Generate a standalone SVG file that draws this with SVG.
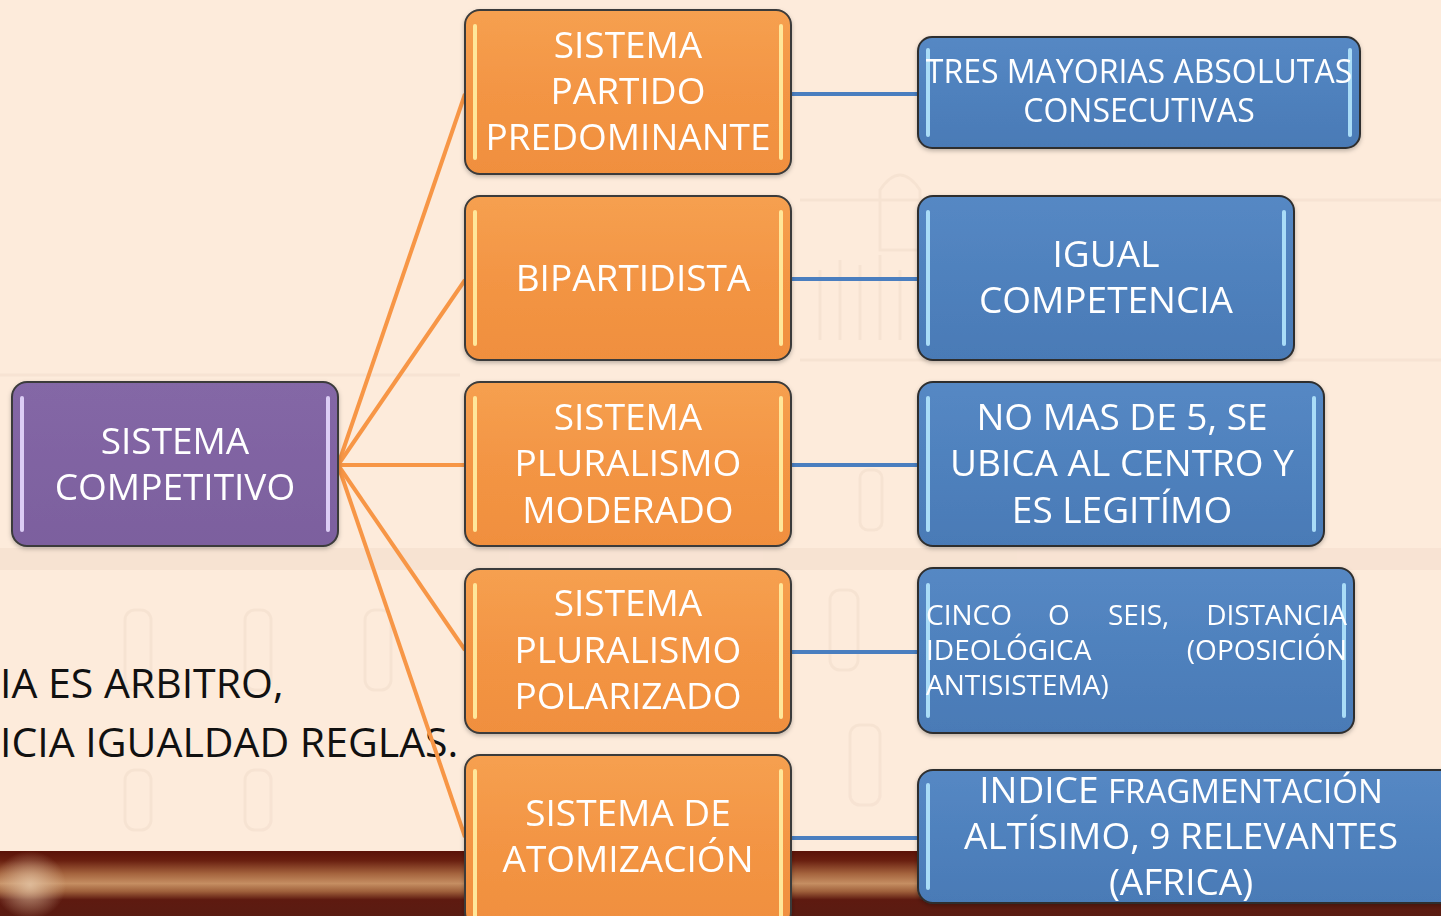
<svg xmlns="http://www.w3.org/2000/svg" width="1441" height="916" viewBox="0 0 1441 916">
<style>
  .t { font-family: "Open Sans", "Liberation Sans", sans-serif; fill: #ffffff; text-anchor: middle; }
  .f37 { font-size: 37px; }
  .f32 { font-size: 32px; }
  .f28 { font-size: 28px; }
  .orange { fill: url(#gOrange); stroke: #3b3b3b; stroke-width: 2; }
  .blue { fill: url(#gBlue); stroke: #2f2f2f; stroke-width: 2; }
  .purple { fill: url(#gPurple); stroke: #3b3b3b; stroke-width: 2; }
  .hlO { stroke: #ffe79a; stroke-width: 4; stroke-linecap: round; }
  .hlB { stroke: #a9dcf7; stroke-width: 4; stroke-linecap: round; }
  .hlP { stroke: #dccdf5; stroke-width: 4; stroke-linecap: round; }
  .co { stroke: #f79646; stroke-width: 4; fill: none; }
  .cb { stroke: #4a7ebf; stroke-width: 4; fill: none; }
  .bg { fill: none; stroke: #f1dccb; stroke-width: 3; }
  .blk { font-family: "Open Sans", "Liberation Sans", sans-serif; font-size: 41px; fill: #111111; }
</style>
<defs>
  <linearGradient id="gOrange" x1="0" y1="0" x2="0" y2="1">
    <stop offset="0" stop-color="#f6a050"/>
    <stop offset="0.5" stop-color="#f39544"/>
    <stop offset="1" stop-color="#f08f3e"/>
  </linearGradient>
  <linearGradient id="gBlue" x1="0" y1="0" x2="0" y2="1">
    <stop offset="0" stop-color="#5588c4"/>
    <stop offset="0.5" stop-color="#4f81bd"/>
    <stop offset="1" stop-color="#4a7ab6"/>
  </linearGradient>
  <linearGradient id="gPurple" x1="0" y1="0" x2="0" y2="1">
    <stop offset="0" stop-color="#8467a6"/>
    <stop offset="1" stop-color="#7c609e"/>
  </linearGradient>
  <linearGradient id="gBand" x1="0" y1="0" x2="0" y2="1">
    <stop offset="0" stop-color="#5a1208"/>
    <stop offset="0.15" stop-color="#6a2010"/>
    <stop offset="0.35" stop-color="#a5643e"/>
    <stop offset="0.5" stop-color="#c58e62"/>
    <stop offset="0.62" stop-color="#a0613c"/>
    <stop offset="0.75" stop-color="#5e1a10"/>
    <stop offset="1" stop-color="#5a1c12"/>
  </linearGradient>
  <radialGradient id="gLamp" cx="0.5" cy="0.5" r="0.5">
    <stop offset="0" stop-color="#e3c3a3" stop-opacity="0.85"/>
    <stop offset="1" stop-color="#e3c3a3" stop-opacity="0"/>
  </radialGradient>
  <filter id="sh" x="-5%" y="-5%" width="110%" height="115%">
    <feDropShadow dx="0" dy="2" stdDeviation="2" flood-color="#000000" flood-opacity="0.25"/>
  </filter>
</defs>

<!-- background -->
<rect x="0" y="0" width="1441" height="916" fill="#fdebdb"/>
<g id="building" opacity="0.5">
  <rect x="0" y="548" width="1441" height="22" fill="#f3dccb"/>
  <path class="bg" d="M800 200 L1441 200 M800 360 L1441 360 M0 375 L460 375"/>
  <path class="bg" d="M880 190 Q900 160 920 190 L920 250 L880 250 Z"/>
  <rect class="bg" x="125" y="610" width="26" height="80" rx="10"/>
  <rect class="bg" x="245" y="610" width="26" height="80" rx="10"/>
  <rect class="bg" x="365" y="610" width="26" height="80" rx="10"/>
  <rect class="bg" x="125" y="770" width="26" height="60" rx="10"/>
  <rect class="bg" x="245" y="770" width="26" height="60" rx="10"/>
  <rect class="bg" x="830" y="590" width="28" height="80" rx="10"/>
  <rect class="bg" x="860" y="470" width="22" height="60" rx="8"/>
  <rect class="bg" x="850" y="725" width="30" height="80" rx="10"/>
  <path class="bg" d="M820 270 L820 340 M840 260 L840 340 M860 265 L860 340 M880 255 L880 340 M900 270 L900 340"/>
</g>
<rect x="0" y="851" width="1441" height="65" fill="url(#gBand)"/>
<ellipse cx="30" cy="885" rx="36" ry="34" fill="url(#gLamp)"/>

<!-- left text -->
<text class="blk" x="0" y="698">IA ES ARBITRO,</text>
<text class="blk" x="0" y="757">ICIA IGUALDAD REGLAS.</text>

<!-- connectors -->
<g id="connectors">
  <path class="co" d="M338 465 L465 94"/>
  <path class="co" d="M338 465 L465 280"/>
  <path class="co" d="M338 465 L465 465"/>
  <path class="co" d="M338 465 L465 650"/>
  <path class="co" d="M338 465 L465 837"/>
  <path class="cb" d="M791 94 L918 94"/>
  <path class="cb" d="M791 279 L918 279"/>
  <path class="cb" d="M791 465 L918 465"/>
  <path class="cb" d="M791 652 L918 652"/>
  <path class="cb" d="M791 838 L918 838"/>
</g>

<!-- root -->
<g id="n-competitivo" filter="url(#sh)">
  <rect class="purple" x="12" y="382" width="326" height="164" rx="15"/>
  <line class="hlP" x1="22" y1="398" x2="22" y2="530"/>
  <line class="hlP" x1="328" y1="398" x2="328" y2="530"/>
  <text class="t f37" x="175" y="454">SISTEMA</text>
  <text class="t f37" x="175" y="500">COMPETITIVO</text>
</g>

<!-- orange nodes -->
<g id="n-predominante" filter="url(#sh)">
  <rect class="orange" x="465" y="10" width="326" height="164" rx="15"/>
  <line class="hlO" x1="475" y1="26" x2="475" y2="158"/>
  <line class="hlO" x1="781" y1="26" x2="781" y2="158"/>
  <text class="t f37" x="628" y="58">SISTEMA</text>
  <text class="t f37" x="628" y="104">PARTIDO</text>
  <text class="t f37" x="628" y="150">PREDOMINANTE</text>
</g>
<g id="n-bipartidista" filter="url(#sh)">
  <rect class="orange" x="465" y="196" width="326" height="164" rx="15"/>
  <line class="hlO" x1="475" y1="212" x2="475" y2="344"/>
  <line class="hlO" x1="781" y1="212" x2="781" y2="344"/>
  <text class="t f37" x="633" y="291">BIPARTIDISTA</text>
</g>
<g id="n-moderado" filter="url(#sh)">
  <rect class="orange" x="465" y="382" width="326" height="164" rx="15"/>
  <line class="hlO" x1="475" y1="398" x2="475" y2="530"/>
  <line class="hlO" x1="781" y1="398" x2="781" y2="530"/>
  <text class="t f37" x="628" y="430">SISTEMA</text>
  <text class="t f37" x="628" y="476">PLURALISMO</text>
  <text class="t f37" x="628" y="523">MODERADO</text>
</g>
<g id="n-polarizado" filter="url(#sh)">
  <rect class="orange" x="465" y="569" width="326" height="164" rx="15"/>
  <line class="hlO" x1="475" y1="585" x2="475" y2="717"/>
  <line class="hlO" x1="781" y1="585" x2="781" y2="717"/>
  <text class="t f37" x="628" y="616">SISTEMA</text>
  <text class="t f37" x="628" y="663">PLURALISMO</text>
  <text class="t f37" x="628" y="709">POLARIZADO</text>
</g>
<g id="n-atomizacion" filter="url(#sh)">
  <rect class="orange" x="465" y="755" width="326" height="172" rx="15"/>
  <line class="hlO" x1="475" y1="771" x2="475" y2="916"/>
  <line class="hlO" x1="781" y1="771" x2="781" y2="916"/>
  <text class="t f37" x="628" y="826">SISTEMA DE</text>
  <text class="t f37" x="628" y="872">ATOMIZACIÓN</text>
</g>

<!-- blue nodes -->
<g id="d-mayorias" filter="url(#sh)">
  <rect class="blue" x="918" y="37" width="442" height="111" rx="14"/>
  <line class="hlB" x1="928" y1="50" x2="928" y2="135"/>
  <line class="hlB" x1="1350" y1="50" x2="1350" y2="135"/>
  <text class="t f32" x="1139" y="83">TRES MAYORIAS ABSOLUTAS</text>
  <text class="t f32" x="1139" y="122">CONSECUTIVAS</text>
</g>
<g id="d-igual" filter="url(#sh)">
  <rect class="blue" x="918" y="196" width="376" height="164" rx="15"/>
  <line class="hlB" x1="928" y1="212" x2="928" y2="344"/>
  <line class="hlB" x1="1284" y1="212" x2="1284" y2="344"/>
  <text class="t f37" x="1106" y="267">IGUAL</text>
  <text class="t f37" x="1106" y="313">COMPETENCIA</text>
</g>
<g id="d-nomas" filter="url(#sh)">
  <rect class="blue" x="918" y="382" width="406" height="164" rx="15"/>
  <line class="hlB" x1="928" y1="398" x2="928" y2="530"/>
  <line class="hlB" x1="1314" y1="398" x2="1314" y2="530"/>
  <text class="t f37" x="1122" y="430">NO MAS DE 5, SE</text>
  <text class="t f37" x="1122" y="476">UBICA AL CENTRO Y</text>
  <text class="t f37" x="1122" y="523">ES LEGITÍMO</text>
</g>
<g id="d-cinco" filter="url(#sh)">
  <rect class="blue" x="918" y="568" width="436" height="165" rx="15"/>
  <line class="hlB" x1="928" y1="585" x2="928" y2="716"/>
  <line class="hlB" x1="1344" y1="585" x2="1344" y2="716"/>
  <text class="t f28" style="text-anchor:start" x="926" y="625">CINCO</text>
  <text class="t f28" style="text-anchor:start" x="1048" y="625">O</text>
  <text class="t f28" style="text-anchor:start" x="1108" y="625">SEIS,</text>
  <text class="t f28" style="text-anchor:end" x="1347" y="625">DISTANCIA</text>
  <text class="t f28" style="text-anchor:start" x="926" y="660">IDEOLÓGICA</text>
  <text class="t f28" style="text-anchor:end" x="1347" y="660">(OPOSICIÓN</text>
  <text class="t f28" style="text-anchor:start" x="926" y="695">ANTISISTEMA)</text>
</g>
<g id="d-indice" filter="url(#sh)">
  <rect class="blue" x="918" y="770" width="540" height="133" rx="15"/>
  <line class="hlB" x1="928" y1="785" x2="928" y2="888"/>
  <text class="t" x="1181" y="803"><tspan font-size="37">INDICE </tspan><tspan font-size="33">FRAGMENTACIÓN</tspan></text>
  <text class="t f37" x="1181" y="849">ALTÍSIMO, 9 RELEVANTES</text>
  <text class="t f37" x="1181" y="895">(AFRICA)</text>
</g>
</svg>
